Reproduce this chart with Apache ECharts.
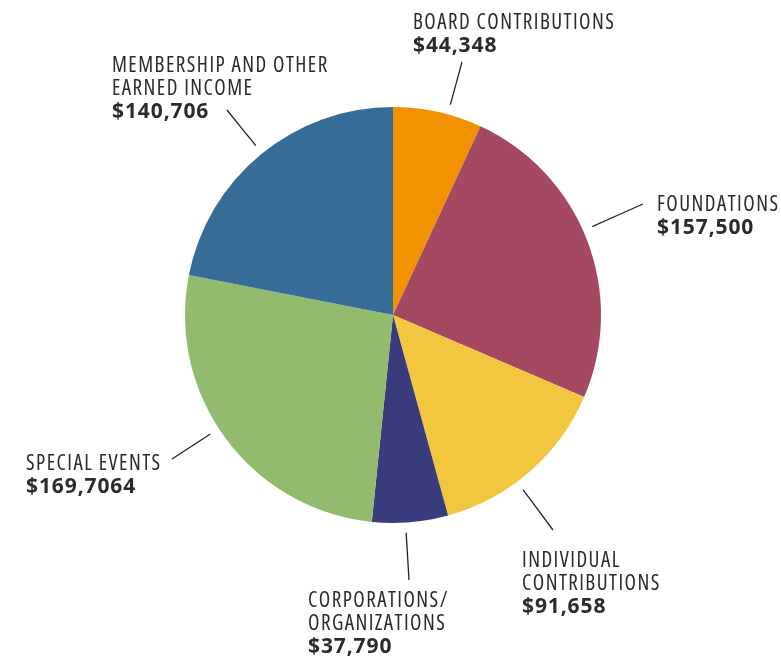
<!DOCTYPE html>
<html><head><meta charset="utf-8">
<script src="https://cdn.jsdelivr.net/npm/echarts@6/dist/echarts.min.js"></script>
<style>html,body{margin:0;padding:0;background:#fff}#c{width:781px;height:658px}</style>
</head><body><div id="c"></div>
<script>
const categories = ['BOARD CONTRIBUTIONS','FOUNDATIONS','INDIVIDUAL\nCONTRIBUTIONS','CORPORATIONS/\nORGANIZATIONS','SPECIAL EVENTS','MEMBERSHIP AND OTHER\nEARNED INCOME'];
const values = [44348,157500,91658,37790,169706,140706];
const valueLabels = ['$44,348','$157,500','$91,658','$37,790','$169,7064','$140,706'];
const colors = ['#F39200','#A54963','#F2C73F','#393B7C','#93BB6E','#366C98'];

const CX = 393, CY = 315, R = 208;
// label box top-left and outer end of leader line
const labelPlacement = [
  {x:413, y:12,  lx:462, ly:62},
  {x:657, y:194, lx:643, ly:204},
  {x:522, y:550, lx:553, ly:530},
  {x:308, y:590, lx:409, ly:580},
  {x:26,  y:453, lx:172, ly:459},
  {x:112, y:55,  lx:227, ly:110}
];

// letter-spacing for the label text (the reference uses tracked type)
(function(){
  const P = CanvasRenderingContext2D.prototype;
  if (!('letterSpacing' in P)) return;
  const orig = P.fillText;
  P.fillText = function(){
    this.letterSpacing = /bold|700/.test(this.font) ? '0.9px' : '1.45px';
    const r = orig.apply(this, arguments);
    this.letterSpacing = '0px';
    return r;
  };
})();

const chart = echarts.init(document.getElementById('c'), null, {renderer:'canvas'});
chart.setOption({
  animation:false,
  series:[{
    type:'pie',
    center:[CX, CY],
    radius:[0, R],
    startAngle:90,
    clockwise:true,
    avoidLabelOverlap:false,
    emphasis:{disabled:true},
    data: values.map((v,i)=>({value:v, name:categories[i], itemStyle:{color:colors[i]}})),
    label:{
      show:true,
      position:'outside',
      formatter: p => p.name.split('\n').map(s=>'{n|'+s+'}').join('\n') + '\n{v|' + valueLabels[p.dataIndex] + '}',
      rich:{
        n:{fontFamily:'"Open Sans",sans-serif', fontStyle:'normal', fontWeight:'normal condensed', fontSize:21, color:'#2b2b2b', lineHeight:23},
        v:{fontFamily:'"Open Sans",sans-serif', fontWeight:'bold', fontSize:21, color:'#2b2b2b', lineHeight:23}
      }
    },
    labelLine:{show:true, smooth:false, lineStyle:{color:'#222', width:1.3}},
    labelLayout: function(p){
      const L = labelPlacement[p.dataIndex];
      const dx = L.lx - CX, dy = L.ly - CY, d = Math.hypot(dx, dy);
      const r = R + 10;
      const a = [CX + dx/d*r, CY + dy/d*r];
      return {
        x:L.x, y:L.y, align:'left', verticalAlign:'top',
        labelLinePoints:[a, [(a[0]+L.lx)/2, (a[1]+L.ly)/2], [L.lx, L.ly]]
      };
    }
  }]
});
</script></body></html>
